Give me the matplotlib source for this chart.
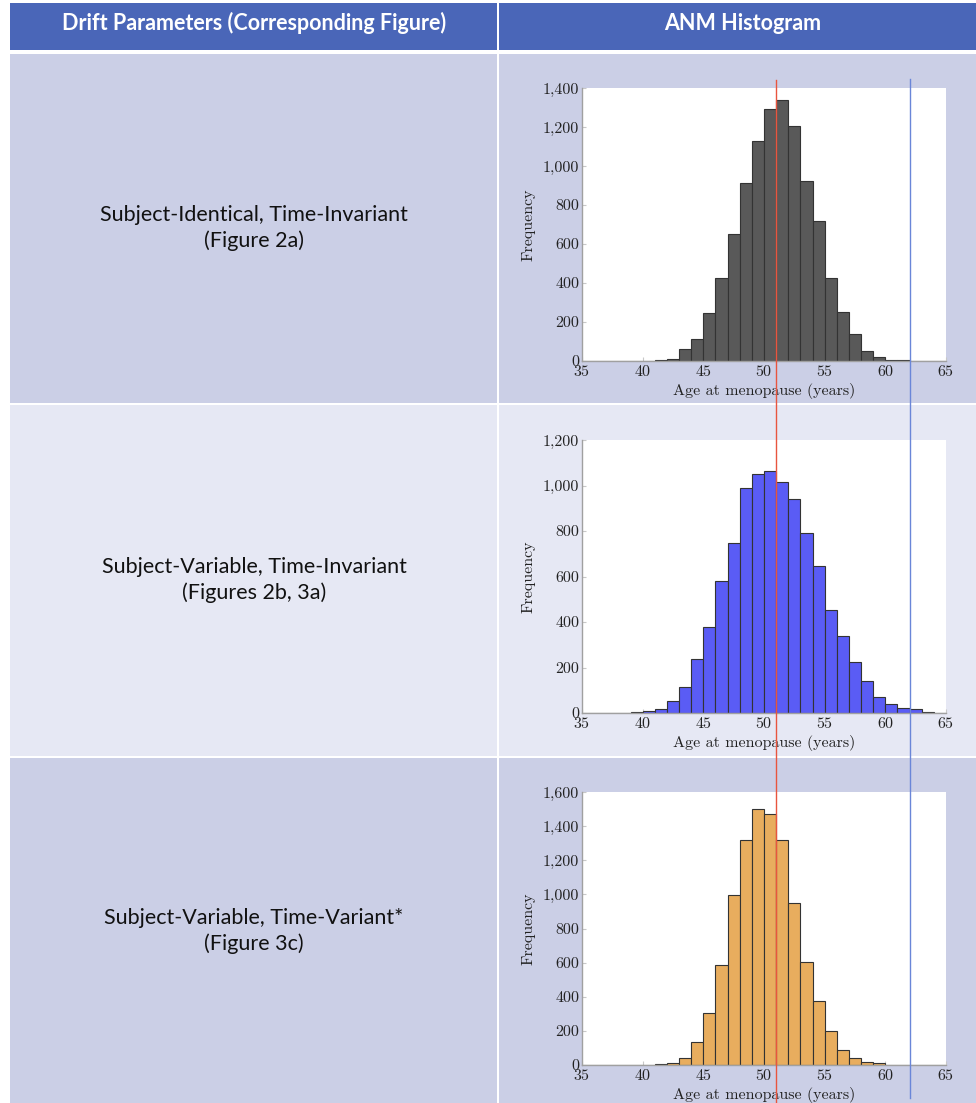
import matplotlib
matplotlib.use("Agg")
import matplotlib.pyplot as plt
import matplotlib.ticker as mticker
from matplotlib.patches import Rectangle
from matplotlib.transforms import blended_transform_factory
import numpy as np

W, H = 976, 1103

# ---------------- data ----------------
headers = ["Drift Parameters (Corresponding Figure)", "ANM Histogram"]
row_labels = [
    "Subject-Identical, Time-Invariant\n(Figure 2a)",
    "Subject-Variable, Time-Invariant\n(Figures 2b, 3a)",
    "Subject-Variable, Time-Variant*\n(Figure 3c)",
]
bin_edges = list(range(35, 66))  # 1-year bins from 35 to 65
# counts per bin [35-36, 36-37, ..., 64-65]
counts_identical = [0, 0, 0, 0, 2, 0, 5, 12, 60, 114, 244, 427, 650, 913, 1128, 1294,
                    1340, 1207, 925, 717, 428, 253, 140, 51, 20, 5, 3, 2, 0, 0]
counts_variable = [0, 0, 0, 1, 3, 10, 18, 54, 114, 237, 378, 580, 746, 991, 1049, 1065,
                   1016, 940, 793, 644, 452, 340, 225, 140, 72, 41, 20, 16, 4, 0]
counts_timevariant = [0, 0, 0, 0, 0, 0, 4, 10, 41, 135, 305, 588, 994, 1320, 1500, 1471,
                      1318, 951, 605, 377, 201, 88, 39, 16, 10, 0, 0, 0, 0, 0]
series = [counts_identical, counts_variable, counts_timevariant]
bar_colors = ["#595959", "#5a5cf5", "#e8ad5e"]
y_max = [1400, 1200, 1600]
y_step = 200
x_ticks = [35, 40, 45, 50, 55, 60, 65]
red_line_x = 51
blue_line_x = 62

# ---------------- figure ----------------
fig = plt.figure(figsize=(W / 100, H / 100), dpi=100)
fig.patch.set_facecolor("white")


def fx(x):
    return x / W


def fy(y):
    return 1 - y / H


def rect(x0, y0, x1, y1, color):
    fig.patches.append(Rectangle((fx(x0), fy(y1)), fx(x1) - fx(x0), fy(y0) - fy(y1),
                                 transform=fig.transFigure, facecolor=color,
                                 edgecolor="none", zorder=-5))


header_col = "#4a66b8"
row_cols = ["#cbcfe6", "#e6e8f4", "#cbcfe6"]
col_div = 498
# header
rect(10, 3, col_div - 1, 50, header_col)
rect(col_div + 1, 3, W, 50, header_col)
rows_y = [(54, 403), (405, 756), (758, H)]
for (y0, y1), c in zip(rows_y, row_cols):
    rect(10, y0, col_div - 1, y1, c)
    rect(col_div + 1, y0, W, y1, c)

sans = ["Lato", "DejaVu Sans"]
fig.text(fx(254), fy(23), headers[0], ha="center", va="center", color="white",
         fontsize=15.5, fontweight="bold", family=sans)
fig.text(fx(743), fy(23), headers[1], ha="center", va="center", color="white",
         fontsize=15.5, fontweight="bold", family=sans)

label_y = [228, 580, 931]
for lab, yy in zip(row_labels, label_y):
    fig.text(fx(254), fy(yy), lab, ha="center", va="center", color="#111111",
             fontsize=15.5, family=sans, linespacing=1.3)

# axes positions (pixels): left, right, top, bottom
ax_boxes = [(582, 946, 88, 361), (582, 946, 440, 713), (582, 946, 792, 1065)]
serif = "cmr10"
plt.rcParams["axes.formatter.use_mathtext"] = True
axes = []
for i, (l, r, t, b) in enumerate(ax_boxes):
    ax = fig.add_axes([fx(l), fy(b), fx(r) - fx(l), fy(t) - fy(b)], zorder=1)
    ax.set_facecolor("white")
    ax.hist(bin_edges[:-1], bins=bin_edges, weights=series[i], color=bar_colors[i],
            edgecolor="#333333", linewidth=0.8, zorder=2)
    ax.set_xlim(35, 65)
    ax.set_ylim(0, y_max[i])
    ax.set_xticks(x_ticks)
    ax.set_yticks(np.arange(0, y_max[i] + 1, y_step))
    ax.yaxis.set_major_formatter(mticker.FuncFormatter(lambda v, p: f"{int(v):,}"))
    for s in ["top", "right"]:
        ax.spines[s].set_visible(False)
    for s in ["left", "bottom"]:
        ax.spines[s].set_color("#a0a0a0")
        ax.spines[s].set_linewidth(1.0)
    ax.tick_params(axis="both", direction="in", length=3, color="#c8c8c8",
                   labelsize=11.5, pad=2, labelcolor="#222222")
    for lbl in ax.get_xticklabels() + ax.get_yticklabels():
        lbl.set_family(serif)
    ax.set_xlabel("Age at menopause (years)", family=serif, fontsize=11.5, labelpad=3,
                  color="#222222")
    ax.set_ylabel("Frequency", family=serif, fontsize=11.5, labelpad=5, color="#222222")
    axes.append(ax)

# vertical reference lines spanning all panels (data x of the histogram axes)
tr = blended_transform_factory(axes[0].transData, fig.transFigure)
fig.add_artist(plt.Line2D([red_line_x, red_line_x], [fy(80), fy(H)], transform=tr,
                          color="#e8553f", linewidth=1.0, zorder=10))
fig.add_artist(plt.Line2D([blue_line_x, blue_line_x], [fy(79), fy(1098)], transform=tr,
                          color="#6a86d8", linewidth=1.0, zorder=10))

fig.savefig("out.png", dpi=100)
